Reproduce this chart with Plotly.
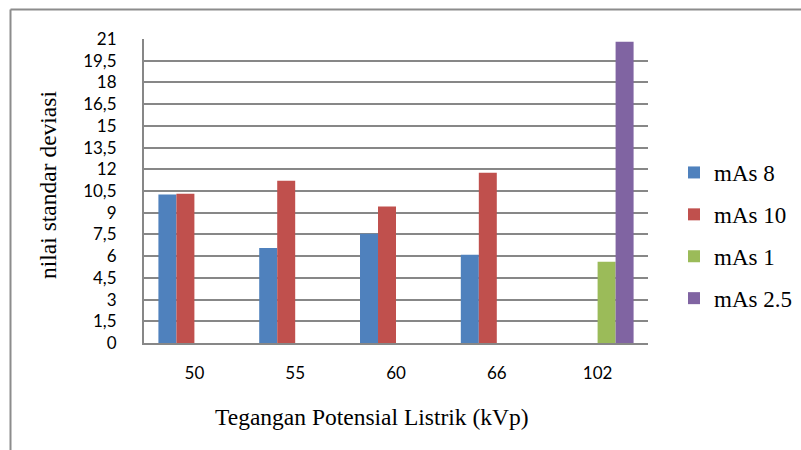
import plotly.graph_objects as go

# Tegangan (kVp) categories and standard-deviation values per mAs setting
kvp = ["50", "55", "60", "66", "102"]
mas_8 = [10.26, 6.56, 7.55, 6.10, None]
mas_10 = [10.31, 11.21, 9.43, 11.76, None]
mas_1 = [None, None, None, None, 5.61]
mas_2_5 = [None, None, None, None, 20.81]

y_ticks = [0, 1.5, 3, 4.5, 6, 7.5, 9, 10.5, 12, 13.5, 15, 16.5, 18, 19.5, 21]
y_tick_text = ["0", "1,5", "3", "4,5", "6", "7,5", "9", "10,5", "12",
               "13,5", "15", "16,5", "18", "19,5", "21"]

series = [
    ("mAs 8", mas_8, "#4F81BD"),
    ("mAs 10", mas_10, "#C0504D"),
    ("mAs 1", mas_1, "#9BBB59"),
    ("mAs 2.5", mas_2_5, "#8064A2"),
]

fig = go.Figure()
for name, vals, color in series:
    fig.add_trace(go.Bar(
        x=kvp, y=vals, name=name, legendgroup=name,
        marker=dict(color=color, line=dict(width=0)),
    ))

W, H = 801, 450
L, R, T, B = 144, 153, 39, 107
pw, ph = W - L - R, H - T - B

def px_x(x):
    return (x - L) / pw

def px_y(y):
    return (H - B - y) / ph

grid_col = "#878787"
serif = "Times New Roman, Liberation Serif, serif"

fig.update_layout(
    width=W, height=H,
    margin=dict(l=L, r=R, t=T, b=B, autoexpand=False),
    paper_bgcolor="white", plot_bgcolor="white",
    barmode="group", bargap=0.286, bargroupgap=0,
    showlegend=True,
    legend=dict(
        x=px_x(674), y=px_y(151), xanchor="left", yanchor="top",
        font=dict(family=serif, size=23, color="black"),
        tracegroupgap=9, traceorder="grouped",
        bgcolor="rgba(0,0,0,0)",
    ),
    xaxis=dict(
        type="category", showgrid=False,
        showline=True, linecolor=grid_col, linewidth=2,
        ticks="", ticklabelstandoff=14,
        tickfont=dict(family="Lato", size=17, color="black"),
    ),
    yaxis=dict(
        range=[0, 21], tickvals=y_ticks, ticktext=y_tick_text,
        showgrid=True, gridcolor=grid_col, gridwidth=1.5,
        showline=True, linecolor=grid_col, linewidth=2,
        zeroline=False, ticks="", ticklabelstandoff=22,
        tickfont=dict(family="Lato", size=17, color="black"),
    ),
    annotations=[
        dict(text="Tegangan Potensial Listrik (kVp)", xref="paper", yref="paper",
             x=px_x(372), y=px_y(432), showarrow=False,
             font=dict(family=serif, size=23.5, color="black")),
        dict(text="nilai standar deviasi", xref="paper", yref="paper",
             x=px_x(33), y=px_y(185), showarrow=False, textangle=-90,
             font=dict(family=serif, size=23.5, color="black")),
    ],
    shapes=[
        dict(type="line", xref="paper", yref="paper",
             x0=px_x(10.5), x1=px_x(W + 2), y0=px_y(9.5), y1=px_y(9.5),
             line=dict(color="#8C8C8C", width=2)),
        dict(type="line", xref="paper", yref="paper",
             x0=px_x(10.5), x1=px_x(10.5), y0=px_y(9.5), y1=px_y(H + 2),
             line=dict(color="#8C8C8C", width=2)),
    ],
)

fig.write_html("out.html")
